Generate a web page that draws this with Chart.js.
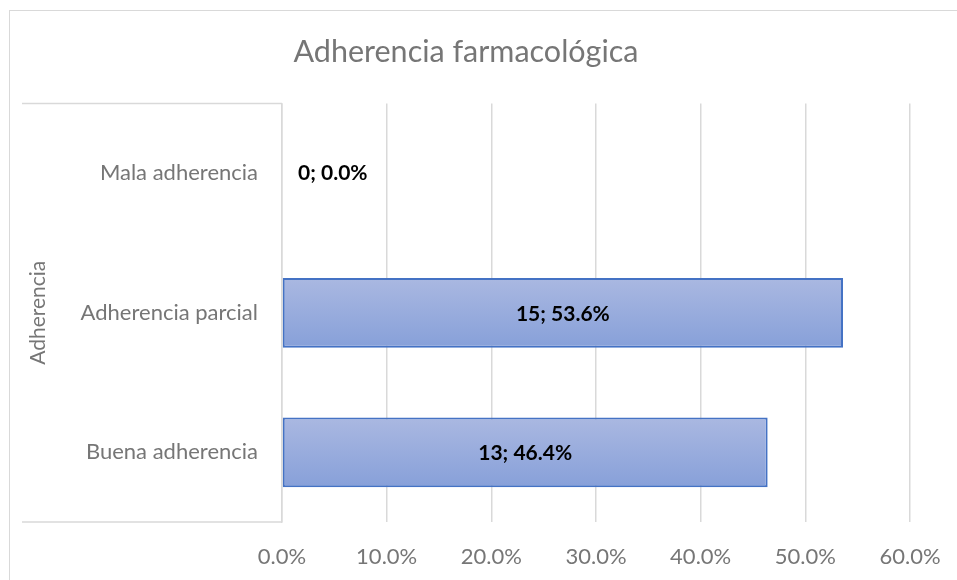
<!DOCTYPE html>
<html>
<head>
<meta charset="utf-8">
<script src="https://cdn.jsdelivr.net/npm/chart.js@4.4.1/dist/chart.umd.min.js"></script>
<style>
  html, body { margin: 0; padding: 0; background: #fff; }
  #wrap { position: relative; width: 957px; height: 580px; overflow: hidden; }
  #frame { position: absolute; left: 9px; top: 10px; width: 1000px; height: 600px; border: 1.5px solid #d9d9d9; box-sizing: border-box; }
  canvas { position: absolute; left: 0; top: 0; }
</style>
</head>
<body>
<div id="wrap">
  <div id="frame"></div>
  <canvas id="c" width="957" height="580"></canvas>
</div>
<script>
const categories = ['Mala adherencia', 'Adherencia parcial', 'Buena adherencia'];
const counts = [0, 15, 13];
const percents = [0.0, 53.6, 46.4];
const chartTitle = 'Adherencia farmacológica';
const axisTitle = 'Adherencia';

const FONT = "Lato, 'Open Sans', sans-serif";
const GRAY = '#767676';
const GRID = '#d9d9d9';

const boxLines = {
  id: 'boxLines',
  afterDraw(chart) {
    const ctx = chart.ctx, a = chart.chartArea, y = chart.scales.y;
    ctx.save();
    ctx.strokeStyle = GRID;
    ctx.lineWidth = 1.5;
    ctx.beginPath();
    ctx.moveTo(y.left, a.top); ctx.lineTo(a.left, a.top);
    ctx.moveTo(y.left, a.bottom); ctx.lineTo(a.left, a.bottom);
    ctx.stroke();
    ctx.restore();
  }
};

const barLabels = {
  id: 'barLabels',
  afterDatasetsDraw(chart) {
    const ctx = chart.ctx;
    const meta = chart.getDatasetMeta(0);
    ctx.save();
    ctx.font = "bold 21px " + FONT;
    ctx.fillStyle = '#000';
    ctx.textBaseline = 'middle';
    meta.data.forEach((bar, i) => {
      const txt = counts[i] + '; ' + percents[i].toFixed(1) + '%';
      if (percents[i] === 0) {
        ctx.textAlign = 'left';
        ctx.fillText(txt, bar.x + 16, bar.y);
      } else {
        ctx.textAlign = 'center';
        ctx.fillText(txt, (bar.base + bar.x) / 2, bar.y + 1);
      }
    });
    ctx.restore();
  }
};

function barGradient(context) {
  const chart = context.chart;
  if (!chart.chartArea || !chart.scales.y) return '#9aaedd';
  const yc = chart.scales.y.getPixelForValue(context.dataIndex);
  const half = chart.scales.y.height / categories.length * 0.25;
  const g = chart.ctx.createLinearGradient(0, yc - half, 0, yc + half);
  g.addColorStop(0, '#aab8e1');
  g.addColorStop(1, '#87a0d9');
  return g;
}

new Chart(document.getElementById('c'), {
  type: 'bar',
  data: {
    labels: categories,
    datasets: [{
      data: percents,
      backgroundColor: barGradient,
      borderColor: '#4472c4',
      borderWidth: 2,
      borderSkipped: false,
      barPercentage: 0.5,
      categoryPercentage: 1.0
    }]
  },
  options: {
    indexAxis: 'y',
    responsive: false,
    animation: false,
    layout: { padding: { left: 22, right: 47, top: 0, bottom: 0 } },
    plugins: {
      legend: { display: false },
      tooltip: { enabled: false },
      title: {
        display: true,
        text: chartTitle,
        color: GRAY,
        font: { family: FONT, size: 30.5, weight: 'normal' },
        padding: { top: 34, bottom: 33 }
      }
    },
    scales: {
      x: {
        min: 0, max: 60,
        ticks: {
          stepSize: 10,
          color: GRAY,
          font: { family: FONT, size: 22 },
          padding: 22,
          maxRotation: 0,
          callback: v => v.toFixed(1) + '%'
        },
        grid: { color: GRID, lineWidth: 1.5, drawTicks: false },
        border: { display: false },
        afterFit(scale) { scale.height = 58; scale.paddingRight = 0; scale.paddingLeft = 0; }
      },
      y: {
        ticks: {
          color: GRAY,
          font: { family: FONT, size: 22 },
          padding: 24
        },
        grid: { display: false, drawTicks: false },
        border: { display: true, color: GRID, width: 1.5 },
        title: {
          display: true,
          text: axisTitle,
          color: GRAY,
          font: { family: FONT, size: 21 },
          padding: { top: 4, bottom: 0 }
        },
        afterFit(scale) { scale.width = 260; }
      }
    }
  },
  plugins: [boxLines, barLabels]
});
</script>
</body>
</html>
